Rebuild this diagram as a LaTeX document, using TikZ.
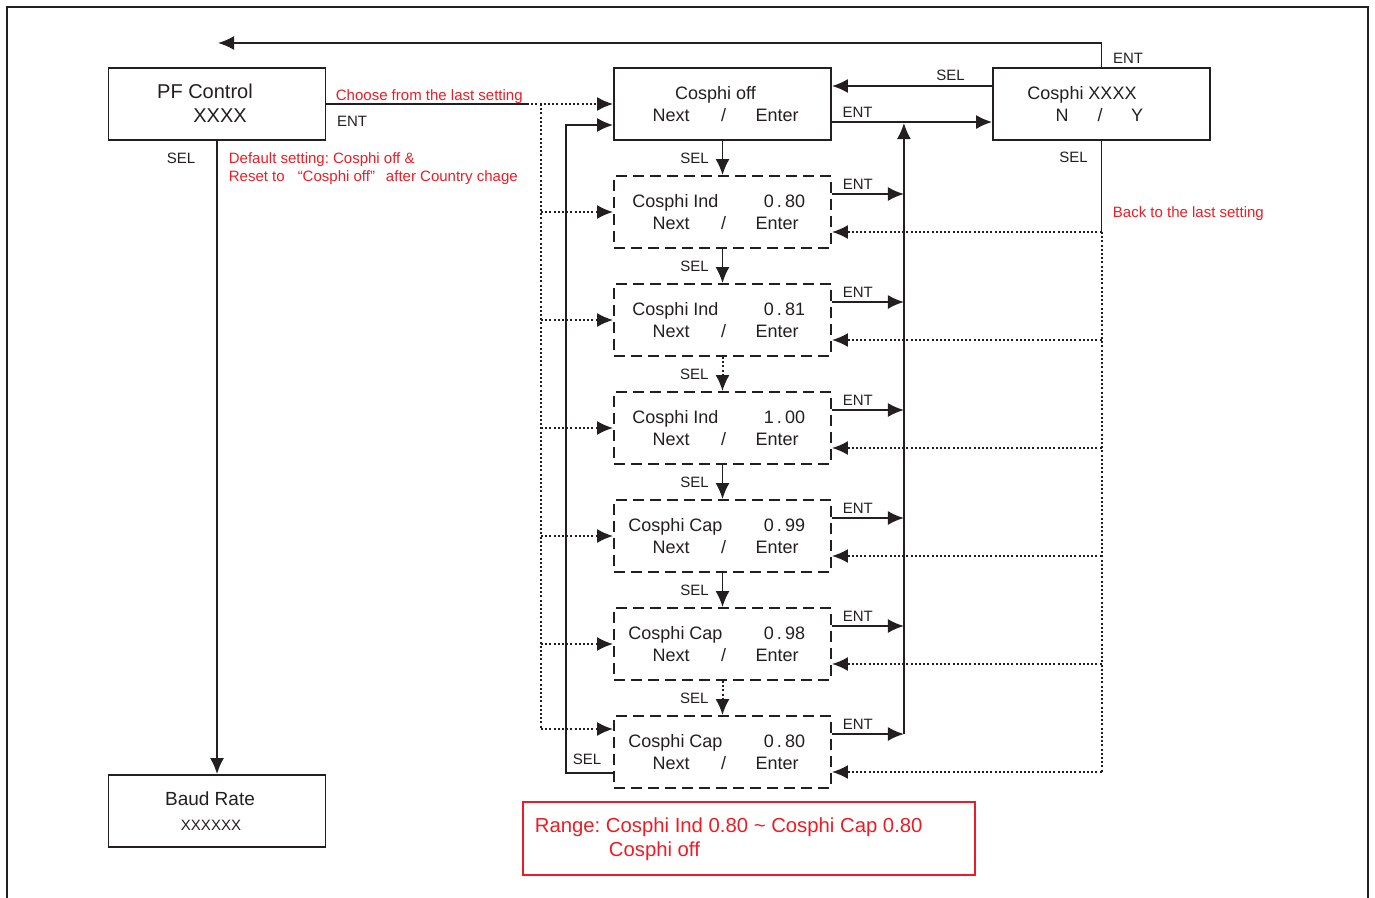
\documentclass[tikz,border=0pt]{standalone}
\usepackage{fontspec}
\setmainfont{Liberation Sans}
\usetikzlibrary{arrows.meta}
\definecolor{ink}{RGB}{35,31,32}
\definecolor{redtxt}{RGB}{237,28,36}
\tikzset{
  box/.style={draw, line width=1.8pt, minimum width=217pt, minimum height=72pt, inner sep=0pt},
  dbox/.style={box, dash pattern=on 11pt off 6pt},
  arr/.style={-{Latex[length=16pt,width=14pt]}},
  dot/.style={line width=2pt, dash pattern=on 2pt off 2.2pt},
  lbl/.style={font=\fontsize{15}{18}\selectfont, inner sep=0pt},
  txt/.style={font=\fontsize{18}{22}\selectfont, inner sep=0pt, anchor=base},
  big/.style={font=\fontsize{20}{24}\selectfont, inner sep=0pt, anchor=base},
  note/.style={lbl, text=redtxt, anchor=base west}
}
\frenchspacing

\begin{document}
\begin{tikzpicture}[x=1pt, y=-1pt, line width=1.8pt, color=ink]
\useasboundingbox (0,0) rectangle (1375,897);
\draw[line width=1.2pt] (7,910) -- (7,7) -- (1368,7) -- (1368,910);

% PF control and baud rate
\node[box] (pf) at (217,104) {};
\node[big] (pf-t) at (205,98) {PF Control};
\node[big] (pf-v) at (220,122) {XXXX};
\node[box] (baud) at (217,811) {};
\node[big, font=\fontsize{19}{22}\selectfont] (baud-t) at (210,805) {Baud Rate};
\node[lbl, anchor=base] (baud-v) at (211,830) {XXXXXX};

% cosphi off and cosphi xxxx
\node[box] (off) at (722.5,104) {};
\node[txt] (off-t) at (715.5,99) {Cosphi off};
\node[txt] (off-n) at (671,121) {Next};
\node[txt] (off-s) at (723.5,121) {/};
\node[txt] (off-e) at (777,121) {Enter};
\node[box] (cx) at (1101.5,104) {};
\node[txt] (cx-t) at (1082,99) {Cosphi XXXX};
\node[txt] (cx-n) at (1062,121) {N};
\node[txt] (cx-s) at (1100,121) {/};
\node[txt] (cx-y) at (1137,121) {Y};

% setting boxes
\foreach \k/\t/\v/\x in {1/Cosphi Ind/0/80, 2/Cosphi Ind/0/81, 3/Cosphi Ind/1/00,
                         4/Cosphi Cap/0/99, 5/Cosphi Cap/0/98, 6/Cosphi Cap/0/80} {
  \node[dbox] (b\k) at (722.5,{212+108*(\k-1)}) {};
  \node[txt] (b\k-t) at ([xshift=-47pt,yshift=5pt]b\k.center) {\t};
  \node[txt] (b\k-v) at ([xshift=62pt,yshift=5pt]b\k.center) {\v\hspace{3pt}.\hspace{3pt}\x};
  \node[txt] (b\k-n) at ([xshift=-51.5pt,yshift=-17pt]b\k.center) {Next};
  \node[txt] (b\k-s) at ([xshift=1pt,yshift=-17pt]b\k.center) {/};
  \node[txt] (b\k-e) at ([xshift=54.5pt,yshift=-17pt]b\k.center) {Enter};
}

% SEL chain
\foreach \a/\b/\s in {off/b1/solid, b1/b2/solid, b2/b3/dot, b3/b4/solid, b4/b5/solid, b5/b6/dot}
  \draw[arr,\s] (\a.south) -- (\b.north) node[lbl,midway,anchor=east,xshift=-13pt] (sel-\b) {SEL};
\draw[arr] ([yshift=-21pt]b6.west) -- ++(-47,0) |- ([yshift=-21pt]off.west);
\node[lbl] (sel-loop) at (587,759) {SEL};

% ENT to cosphi xxxx and back
\draw[arr] ([yshift=-18pt]off.east) coordinate (offent) -- ([yshift=-18pt]cx.west)
  node[lbl,pos=0.16,above=4pt] (ent-off) {ENT};
\draw[arr] ([yshift=18pt]cx.west) -- ([yshift=18pt]off.east)
  node[lbl,pos=0.26,above=4pt] (sel-cx) {SEL};
\foreach \k in {1,...,6} {
  \draw[arr] ([yshift=18pt]b\k.east) -- ++(72,0) coordinate (ee\k)
    node[lbl,pos=0.36,above=4pt] (ent-\k) {ENT};
  \coordinate (bk\k) at ([yshift=-20pt]b\k.east);
  \draw[dot,arr] (cx.south |- bk\k) -- (bk\k);
}
\draw[arr] (ee6) -- ([yshift=-1pt]ee6 |- offent);
\draw (cx.south) -- (cx.south |- bk1) node[lbl,pos=0.18,anchor=east,xshift=-13pt] (sel-down) {SEL};
\draw[dot] (cx.south |- bk1) -- (cx.south |- bk6);
\coordinate (topend) at (218,43);
\draw[arr] (cx.north) |- (topend);
\node[lbl] (ent-top) at (1128,58) {ENT};

% PF control links
\coordinate (chs) at (527,104);
\coordinate (chx) at (541,104);
\draw (pf.east) -- (chs);
\draw[dot,arr] (chs) -- (off.west);
\foreach \k in {1,...,5}
  \draw[dot,arr] (chx |- b\k.west) -- (b\k.west);
\coordinate (fd6) at ([yshift=23pt]b6.west);
\draw[dot,arr] (chx |- fd6) -- (fd6);
\draw[dot] (chx) -- (chx |- fd6);
\draw[arr] (pf.south) -- (baud.north);
\node[lbl] (ent-pf) at (352,121) {ENT};
\node[lbl] (sel-pf) at (181,158) {SEL};

% notes
\node[note] (n-choose) at (335,100.5) {Choose from the last setting};
\node[note] (n-def1) at (228,163.5) {Default setting: Cosphi off \&};
\node[note] (n-def2) at (228,181) {Reset to\hspace{13pt}“Cosphi off”\hspace{11pt}after Country chage};
\node[note] (n-back) at (1112,217) {Back to the last setting};
\node[box, draw=redtxt, line width=1.4pt, minimum width=452pt, minimum height=73pt] (range) at (749,838.5) {};
\node[big, font=\fontsize{20.3}{24}\selectfont, anchor=base west, text=redtxt] (range-1) at (534,832) {Range: Cosphi Ind 0.80 \textasciitilde{} Cosphi Cap 0.80};
\node[big, font=\fontsize{20.3}{24}\selectfont, anchor=base west, text=redtxt] (range-2) at (608,856) {Cosphi off};
\end{tikzpicture}
\end{document}
